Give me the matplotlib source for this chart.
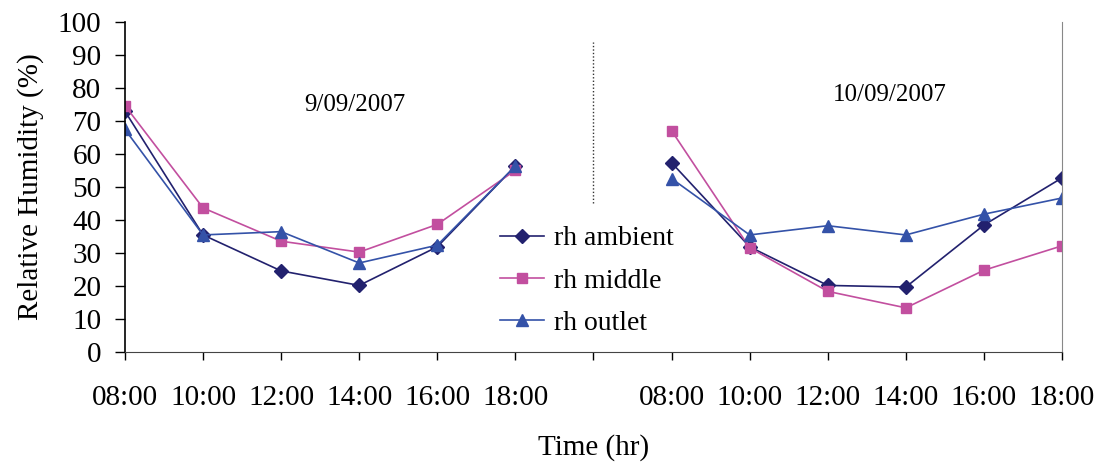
import matplotlib
matplotlib.use("Agg")
import matplotlib.pyplot as plt
import numpy as np

# categories: two days of readings, with an empty slot between them
time_labels = ["08:00", "10:00", "12:00", "14:00", "16:00", "18:00", "",
               "08:00", "10:00", "12:00", "14:00", "16:00", "18:00"]

# relative humidity (%) for 9/09/2007 and 10/09/2007
rh_ambient_day1 = [73.0, 35.5, 24.6, 20.2, 31.9, 56.4]
rh_middle_day1 = [74.7, 43.7, 33.6, 30.3, 38.7, 55.1]
rh_outlet_day1 = [67.5, 35.5, 36.5, 27.0, 32.4, 56.4]

rh_ambient_day2 = [57.4, 31.9, 20.2, 19.7, 38.5, 52.8]
rh_middle_day2 = [67.1, 31.6, 18.4, 13.4, 24.8, 32.2]
rh_outlet_day2 = [52.6, 35.5, 38.3, 35.5, 41.8, 46.7]

day_labels = ["9/09/2007", "10/09/2007"]

plt.rcParams["font.family"] = ["Liberation Serif", "DejaVu Serif"]

fig = plt.figure(figsize=(10.96, 4.62), dpi=100)
ax = fig.add_axes([0.114, 0.238, 0.855, 0.714])

x_all = np.arange(len(time_labels))
x_day1 = x_all[:6]
x_day2 = x_all[7:]

series = [
    ("rh ambient", rh_ambient_day1, rh_ambient_day2, "#22216e", "D", 7),
    ("rh middle", rh_middle_day1, rh_middle_day2, "#c24f9f", "s", 7),
    ("rh outlet", rh_outlet_day1, rh_outlet_day2, "#3452a8", "^", 8),
]

for name, d1, d2, col, mk, ms in series:
    ax.plot(x_day1, d1, color=col, marker=mk, markersize=ms, lw=1.2,
            label=name)
    ax.plot(x_day2, d2, color=col, marker=mk, markersize=ms, lw=1.2)

# dotted separator between the two days
ax.axvline(6, ymin=0.453, ymax=0.94, color="#333333", lw=1, ls=(0, (1, 1.5)))

ax.text(2.95, 75, day_labels[0], fontsize=18, ha="center", va="center")
ax.text(9.8, 78, day_labels[1], fontsize=18, ha="center", va="center")

ax.set_xlim(0, 12)
ax.set_ylim(0, 100)
ax.set_xticks(x_all)
ax.set_xticklabels(time_labels)
ax.set_yticks(np.arange(0, 101, 10))
ax.tick_params(axis="x", direction="out", length=6, width=1, pad=18,
               labelsize=21)
ax.tick_params(axis="y", direction="out", length=7, width=1, pad=10,
               labelsize=21)

ax.spines["top"].set_visible(False)
ax.spines["right"].set_color("#888888")
ax.spines["left"].set_linewidth(1.2)
ax.spines["bottom"].set_color("#444444")

ax.set_xlabel("Time (hr)", fontsize=21, labelpad=16)
ax.set_ylabel("Relative Humidity (%)", fontsize=21, labelpad=10)

leg = ax.legend(loc="upper left", bbox_to_anchor=(500 / 1096, 1 - 226 / 462),
                bbox_transform=fig.transFigure, frameon=False, fontsize=20,
                handlelength=1.6, handletextpad=0.35, labelspacing=0.6,
                borderpad=0, borderaxespad=0)

fig.savefig("out.png", dpi=100)
